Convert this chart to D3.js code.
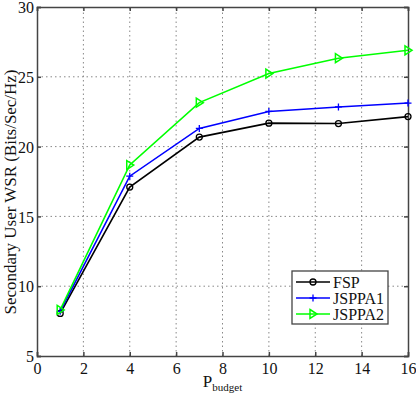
<!DOCTYPE html>
<html><head><meta charset="utf-8">
<script src="https://cdn.jsdelivr.net/npm/d3@7"></script>
<style>html,body{margin:0;padding:0;background:#fff;}svg{display:block;}</style>
</head><body>
<script>
const xValues = [1, 4, 7, 10, 13, 16];
const fsp = [8.05, 17.1, 20.68, 21.68, 21.65, 22.15];
const jsppa1 = [8.2, 17.88, 21.3, 22.52, 22.84, 23.12];
const jsppa2 = [8.3, 18.68, 23.15, 25.23, 26.33, 26.9];
const seriesNames = ["FSP", "JSPPA1", "JSPPA2"];
const seriesColors = ["#000000", "#0000ff", "#00ff00"];
const xTicks = [0, 2, 4, 6, 8, 10, 12, 14, 16];
const yTicks = [5, 10, 15, 20, 25, 30];

const W = 416, H = 396;
const m = {l: 37, r: 8, t: 7, b: 40};
const svg = d3.select("body").append("svg").attr("width", W).attr("height", H);
const x = d3.scaleLinear().domain([0, 16]).range([m.l, W - m.r]);
const y = d3.scaleLinear().domain([5, 30]).range([H - m.b, m.t]);
const font = "'Liberation Serif', 'Times New Roman', Times, serif";

// grid
const g = svg.append("g");
g.selectAll(".gx").data(xTicks.slice(1, -1)).enter().append("line")
  .attr("x1", d => x(d)).attr("x2", d => x(d)).attr("y1", y(5)).attr("y2", y(30))
  .attr("stroke", "#888").attr("stroke-width", 1).attr("stroke-dasharray", "1.5,3");
g.selectAll(".gy").data(yTicks.slice(1, -1)).enter().append("line")
  .attr("x1", x(0)).attr("x2", x(16)).attr("y1", d => y(d)).attr("y2", d => y(d))
  .attr("stroke", "#888").attr("stroke-width", 1).attr("stroke-dasharray", "1.5,3");

// axes
const xAxis = svg.append("g").attr("transform", `translate(0,${y(5)})`)
  .call(d3.axisBottom(x).tickValues(xTicks).tickSize(-4).tickPadding(7).tickFormat(d3.format("d")));
const yAxis = svg.append("g").attr("transform", `translate(${x(0)},0)`)
  .call(d3.axisLeft(y).tickValues(yTicks).tickSize(-4).tickPadding(3).tickFormat(d3.format("d")));
const xAxisTop = svg.append("g").attr("transform", `translate(0,${y(30)})`)
  .call(d3.axisTop(x).tickValues(xTicks).tickSize(-4).tickFormat(""));
const yAxisRight = svg.append("g").attr("transform", `translate(${x(16)},0)`)
  .call(d3.axisRight(y).tickValues(yTicks).tickSize(-4).tickFormat(""));
[xAxis, yAxis, xAxisTop, yAxisRight].forEach(a => {
  a.selectAll("path,line").attr("stroke", "#444").attr("stroke-width", 1.5);
  a.selectAll("text").attr("font-family", font).attr("font-size", 16).attr("fill", "#111");
});
xAxis.selectAll("text").attr("dy", "0.71em");
yAxis.selectAll("text").attr("dy", "0.36em");

// series
const data = [fsp, jsppa1, jsppa2];
const line = d3.line().x((d, i) => x(xValues[i])).y(d => y(d));
data.forEach((s, k) => {
  svg.append("path").datum(s).attr("d", line).attr("fill", "none")
    .attr("stroke", seriesColors[k]).attr("stroke-width", 1.6);
});

function marker(sel, k, cx, cy) {
  if (k === 0) {
    sel.append("circle").attr("cx", cx).attr("cy", cy).attr("r", 3)
      .attr("fill", "none").attr("stroke", seriesColors[k]).attr("stroke-width", 1.3);
  } else if (k === 1) {
    sel.append("path").attr("d", `M${cx-3.5},${cy}H${cx+3.5}M${cx},${cy-3.5}V${cy+3.5}`)
      .attr("stroke", seriesColors[k]).attr("stroke-width", 1.3);
  } else {
    sel.append("path").attr("d", `M${cx-3},${cy-4.5}L${cx+4},${cy}L${cx-3},${cy+4.5}Z`)
      .attr("fill", "none").attr("stroke", seriesColors[k]).attr("stroke-width", 1.5);
  }
}
data.forEach((s, k) => {
  const mg = svg.append("g");
  s.forEach((v, i) => marker(mg, k, x(xValues[i]), y(v)));
});

// legend
const lg = svg.append("g");
const lx = 292, ly = 271, lw = 96, lh = 53;
lg.append("rect").attr("x", lx).attr("y", ly).attr("width", lw).attr("height", lh)
  .attr("fill", "#fff").attr("stroke", "#444").attr("stroke-width", 1.3);
seriesNames.forEach((n, k) => {
  const yy = ly + 11 + k * 16;
  lg.append("line").attr("x1", lx + 4).attr("x2", lx + 38).attr("y1", yy).attr("y2", yy)
    .attr("stroke", seriesColors[k]).attr("stroke-width", 1.6);
  marker(lg, k, lx + 21, yy);
  lg.append("text").attr("x", lx + 41).attr("y", yy).attr("dy", "0.35em")
    .attr("font-family", font).attr("font-size", 16).attr("fill", "#111").text(n);
});

// axis labels
svg.append("text").attr("transform", `translate(16,192) rotate(-90)`)
  .attr("text-anchor", "middle").attr("font-family", font).attr("font-size", 17)
  .attr("textLength", 245).attr("lengthAdjust", "spacingAndGlyphs")
  .attr("fill", "#111").text("Secondary User WSR (Bits/Sec/Hz)");
const xl = svg.append("text").attr("x", x(8)).attr("y", 387).attr("text-anchor", "middle")
  .attr("font-family", font).attr("fill", "#111");
xl.append("tspan").attr("font-size", 17).text("P");
xl.append("tspan").attr("font-size", 11).attr("dy", 4).text("budget");
</script>
</body></html>
